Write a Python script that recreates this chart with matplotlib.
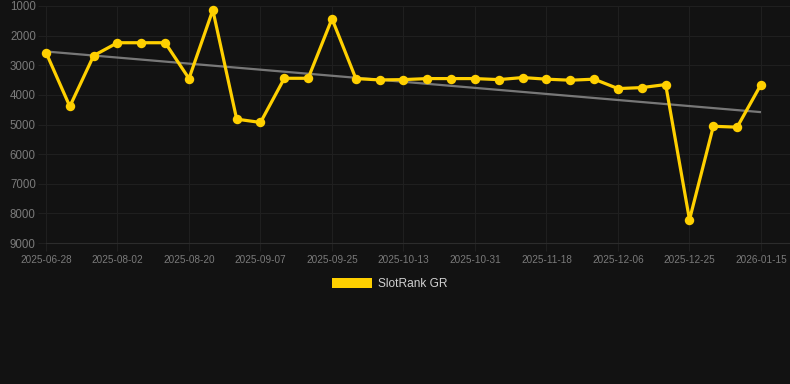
import numpy as np
import matplotlib
matplotlib.use("Agg")
import matplotlib.pyplot as plt
from matplotlib.patches import Patch

dates = ["2025-06-28", "2025-07-10", "2025-07-22", "2025-08-02", "2025-08-08",
         "2025-08-14", "2025-08-20", "2025-08-26", "2025-09-01", "2025-09-07",
         "2025-09-13", "2025-09-19", "2025-09-25", "2025-10-01", "2025-10-07",
         "2025-10-13", "2025-10-19", "2025-10-25", "2025-10-31", "2025-11-06",
         "2025-11-12", "2025-11-18", "2025-11-24", "2025-11-30", "2025-12-06",
         "2025-12-12", "2025-12-18", "2025-12-25", "2026-01-01", "2026-01-08",
         "2026-01-15"]
rank = [2570, 4390, 2675, 2240, 2240, 2240, 3450, 1135, 4820, 4930,
        3440, 3440, 1430, 3450, 3495, 3485, 3450, 3450, 3450, 3485,
        3415, 3470, 3505, 3470, 3788, 3754, 3652, 8215, 5060, 5090, 3650]
series_name = "SlotRank GR"
y_ticks = [1000, 2000, 3000, 4000, 5000, 6000, 7000, 8000, 9000]

BG = "#121212"
GRID = "#1f1f1f"
GOLD = "#FFD000"
TICK = "#7a7a7a"

plt.rcParams['font.family'] = ['Liberation Sans', 'DejaVu Sans']

fig = plt.figure(figsize=(7.9, 3.84), dpi=100, facecolor=BG)
ax = fig.add_axes([46/790, 1-243/384, 1-46/790, (243-6)/384], facecolor=BG)

x = np.arange(len(dates))
coef = np.polyfit(x, rank, 1)
ax.plot(x, np.polyval(coef, x), color="#8a8a8a", lw=1.6, alpha=0.85, zorder=2,
        solid_capstyle='butt')
ax.plot(x, rank, color=GOLD, lw=2.3, marker='o', markersize=6.8,
        markeredgewidth=0, zorder=3, clip_on=False)

ax.set_ylim(9000, 1000)
ax.set_yticks(y_ticks)
ax.set_yticklabels([str(v) for v in y_ticks])
ax.set_xlim(0, 30 + 29/23.83)
ax.set_xticks(x[::3])
ax.set_xticklabels([dates[i] for i in x[::3]])

ax.grid(True, color=GRID, lw=0.8)
ax.set_axisbelow(True)
for s in ['top', 'right', 'left']:
    ax.spines[s].set_visible(False)
ax.spines['bottom'].set_color("#2c2c2c")
ax.spines['bottom'].set_linewidth(0.8)

ax.tick_params(axis='y', length=5.8, width=0.8, color=GRID, pad=1.5,
               labelsize=8.3, labelcolor=TICK)
ax.tick_params(axis='x', length=5.8, width=0.8, color=GRID, pad=2.5,
               labelsize=7.2, labelcolor=TICK)

handle = Patch(facecolor=GOLD, edgecolor='none')
leg = fig.legend([handle], [series_name], loc='center',
                 bbox_to_anchor=(0.5 - 5/790, 1-284/384),
                 frameon=False, fontsize=8.6, labelcolor="#d0d0d0",
                 handlelength=3.33, handleheight=1.0, handletextpad=0.55)

fig.savefig("out.png", dpi=100, facecolor=BG)
